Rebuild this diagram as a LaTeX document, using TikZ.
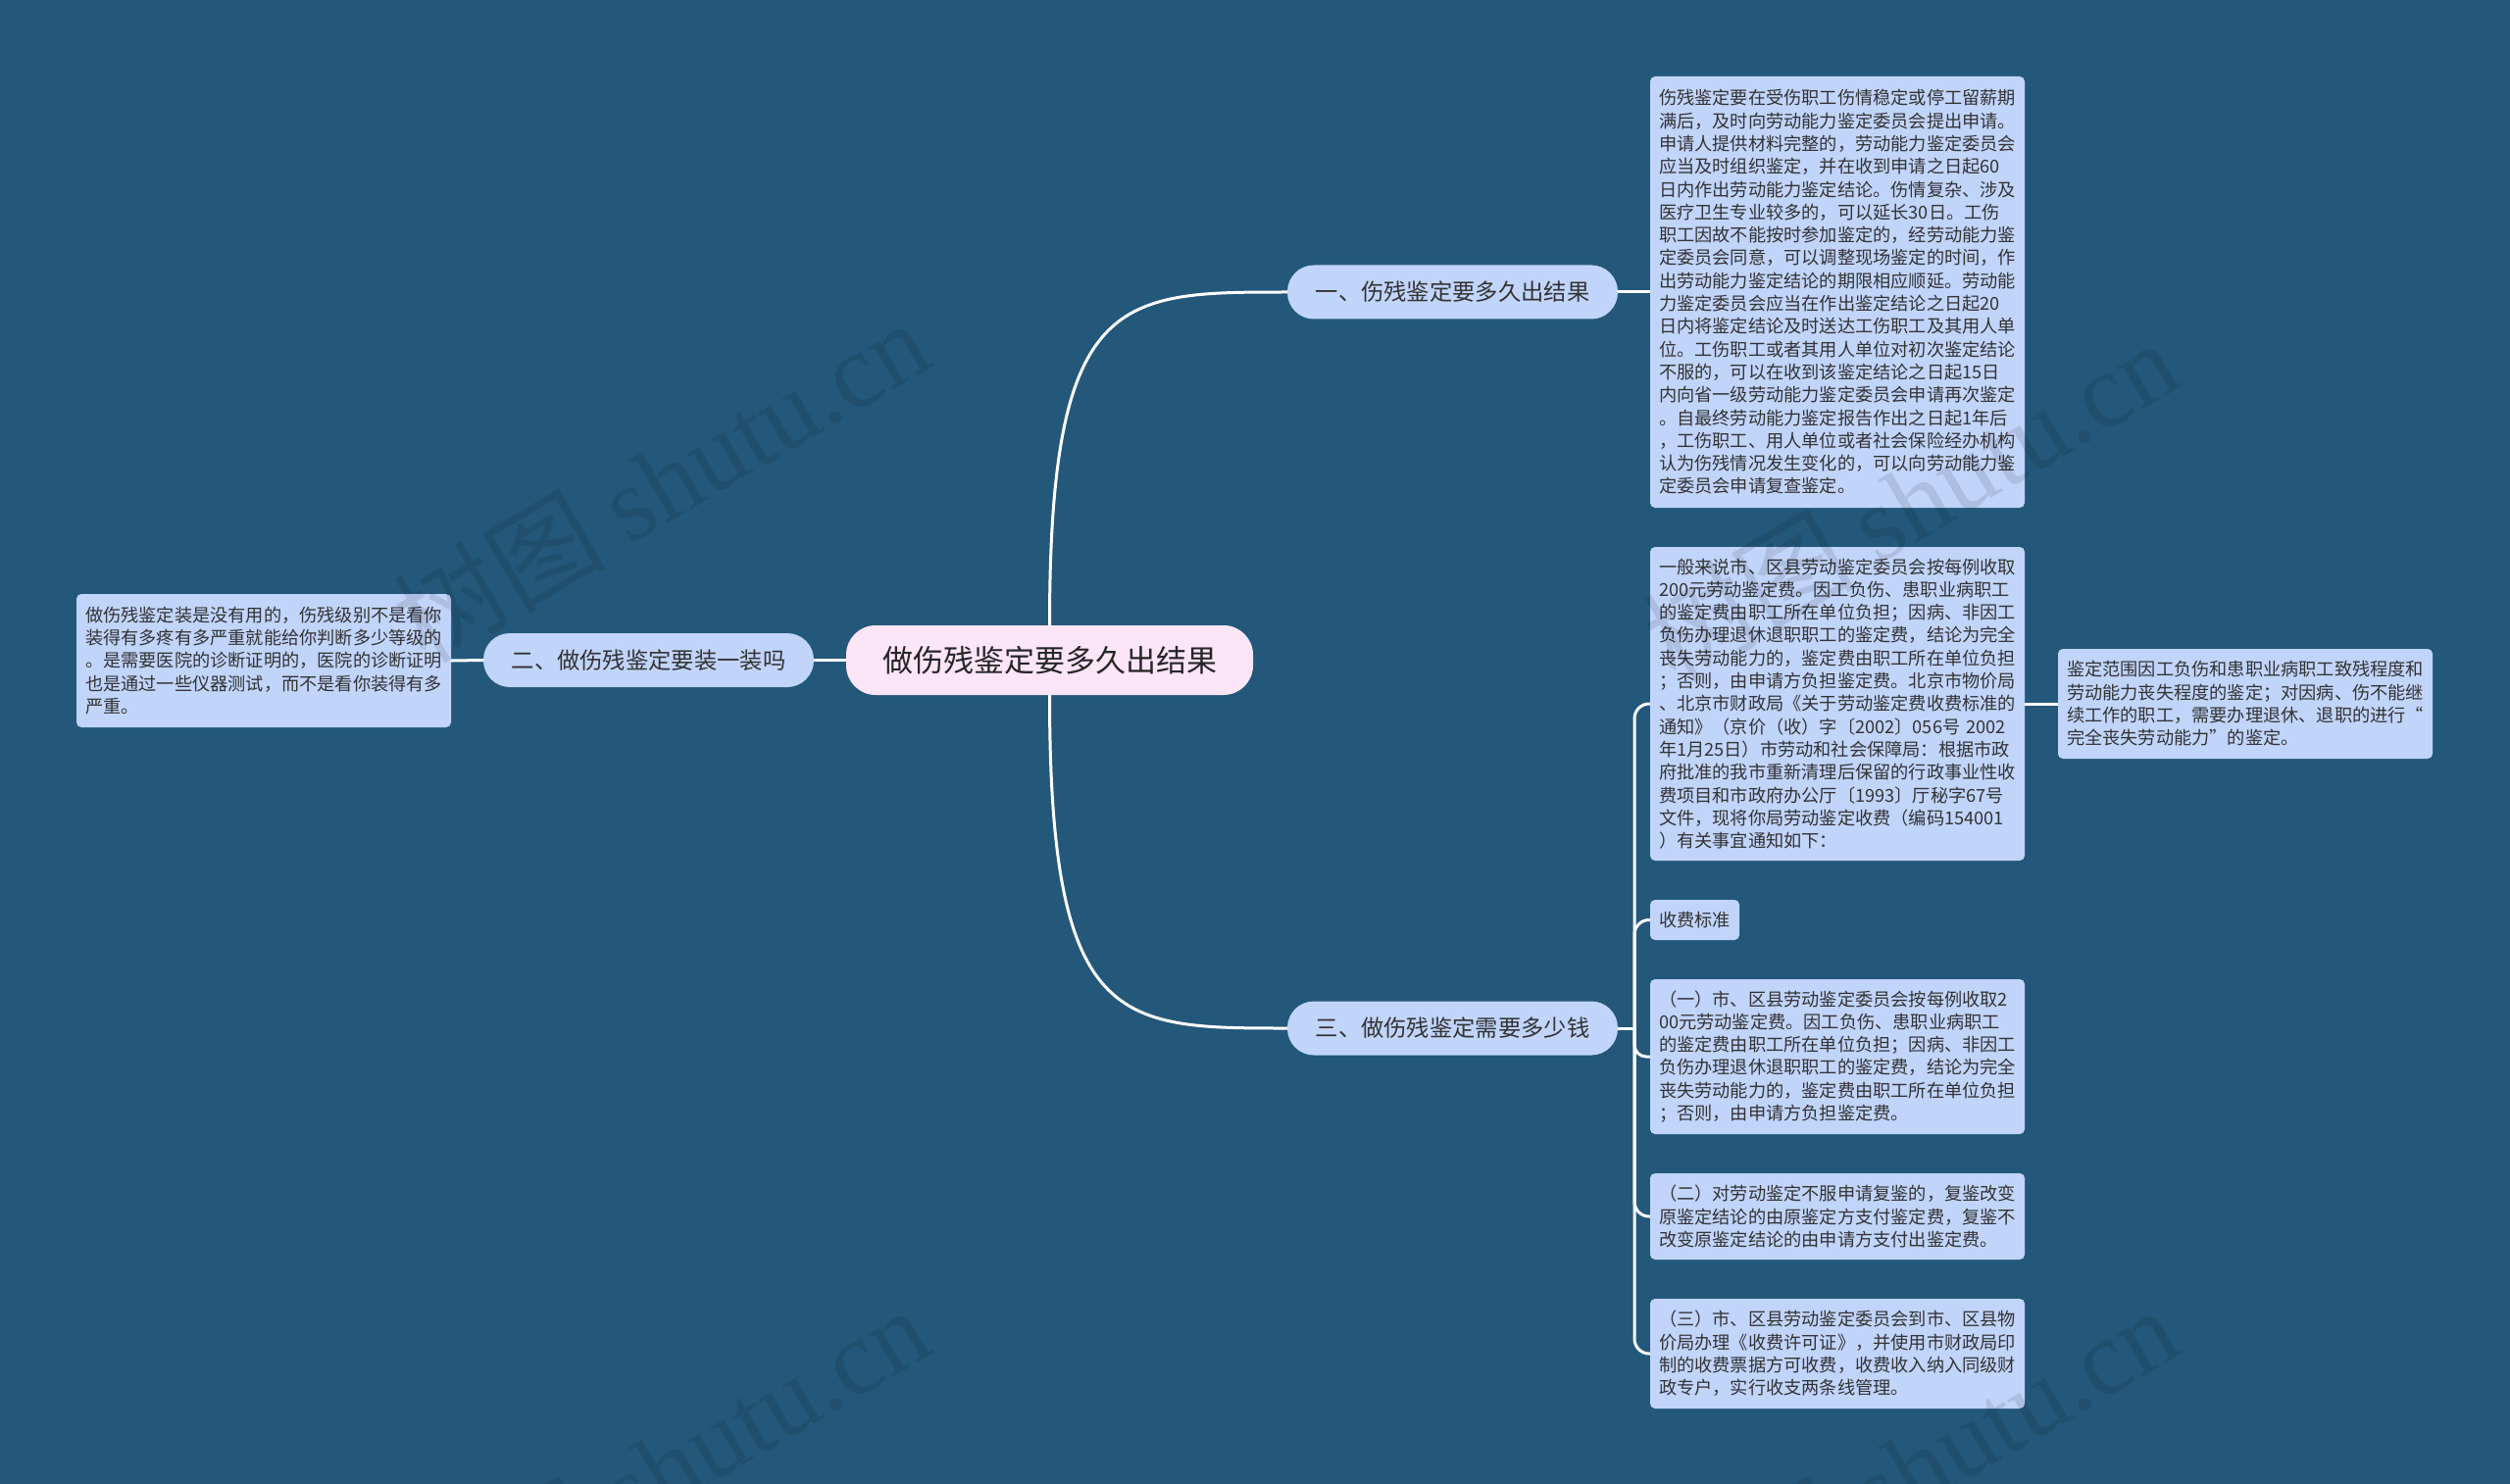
\documentclass[tikz,border=0pt]{standalone}
\usepackage{fontspec}
\setmainfont{Noto Sans CJK SC}
\newfontfamily\wmfont{Liberation Serif}
\definecolor{bgc}{RGB}{35,88,122}
\definecolor{nodefill}{RGB}{193,212,250}
\definecolor{rootfill}{RGB}{253,229,248}
\definecolor{txt}{RGB}{51,51,51}
\tikzset{
  leaf/.style={fill=nodefill, rounded corners=5pt, text=txt, align=left,
    font=\fontsize{18.2}{23.3}\selectfont, text width=364pt, inner xsep=9pt,
    inner ysep=0pt, minimum width=382pt, anchor=center},
  smallleaf/.style={fill=nodefill, rounded corners=5pt, text=txt,
    font=\fontsize{18.2}{23.3}\selectfont, inner xsep=0pt, inner ysep=0pt,
    minimum width=91pt, minimum height=41pt, anchor=center},
  branch/.style={fill=nodefill, rounded corners=27pt, text=txt,
    font=\fontsize{23.3}{28}\selectfont, minimum width=337pt, minimum height=55pt,
    inner sep=0pt, anchor=center},
  rootnode/.style={fill=rootfill, rounded corners=30pt, text=black!85,
    font=\fontsize{31}{36}\selectfont, minimum width=415pt, minimum height=71pt,
    inner sep=0pt, anchor=center},
  conn/.style={draw=white, line width=3pt},
  wm/.style={text=black, text opacity=0.1, rotate=30.5, font=\fontsize{108}{120}\selectfont, inner sep=0pt}
}
\begin{document}
\begin{tikzpicture}[x=1pt,y=-1pt]
\fill[bgc] (0,0) rectangle (2560,1514);
\useasboundingbox (0,0) rectangle (2560,1514);

% root & branches
\node[rootnode] (root) at (1070.5,673.5) {做伤残鉴定要多久出结果};
\node[branch] (b1) at (1481.5,298) {一、伤残鉴定要多久出结果};
\node[branch] (b2) at (661.5,673.5) {二、做伤残鉴定要装一装吗};
\node[branch] (b3) at (1481.5,1049) {三、做伤残鉴定需要多少钱};

% leaves
\node[leaf, minimum height=440pt] (l1) at (1874,298) {伤残鉴定要在受伤职工伤情稳定或停工留薪期\\满后，及时向劳动能力鉴定委员会提出申请。\\申请人提供材料完整的，劳动能力鉴定委员会\\应当及时组织鉴定，并在收到申请之日起60\\日内作出劳动能力鉴定结论。伤情复杂、涉及\\医疗卫生专业较多的，可以延长30日。工伤\\职工因故不能按时参加鉴定的，经劳动能力鉴\\定委员会同意，可以调整现场鉴定的时间，作\\出劳动能力鉴定结论的期限相应顺延。劳动能\\力鉴定委员会应当在作出鉴定结论之日起20\\日内将鉴定结论及时送达工伤职工及其用人单\\位。工伤职工或者其用人单位对初次鉴定结论\\不服的，可以在收到该鉴定结论之日起15日\\内向省一级劳动能力鉴定委员会申请再次鉴定\\。自最终劳动能力鉴定报告作出之日起1年后\\，工伤职工、用人单位或者社会保险经办机构\\认为伤残情况发生变化的，可以向劳动能力鉴\\定委员会申请复查鉴定。};

\node[leaf, minimum height=136pt] (l2) at (269,674) {做伤残鉴定装是没有用的，伤残级别不是看你\\装得有多疼有多严重就能给你判断多少等级的\\。是需要医院的诊断证明的，医院的诊断证明\\也是通过一些仪器测试，而不是看你装得有多\\严重。};

\node[leaf, minimum height=320pt] (l3a) at (1874,718) {一般来说市、区县劳动鉴定委员会按每例收取\\200元劳动鉴定费。因工负伤、患职业病职工\\的鉴定费由职工所在单位负担；因病、非因工\\负伤办理退休退职职工的鉴定费，结论为完全\\丧失劳动能力的，鉴定费由职工所在单位负担\\；否则，由申请方负担鉴定费。北京市物价局\\、北京市财政局《关于劳动鉴定费收费标准的\\通知》（京价（收）字〔2002〕056号 2002\\年1月25日）市劳动和社会保障局：根据市政\\府批准的我市重新清理后保留的行政事业性收\\费项目和市政府办公厅〔1993〕厅秘字67号\\文件，现将你局劳动鉴定收费（编码154001\\）有关事宜通知如下：};

\node[leaf, minimum height=112pt] (l3ac) at (2290,718) {鉴定范围因工负伤和患职业病职工致残程度和\\劳动能力丧失程度的鉴定；对因病、伤不能继\\续工作的职工，需要办理退休、退职的进行“\\完全丧失劳动能力”的鉴定。};

\node[smallleaf] (l3b) at (1728.5,938.5) {收费标准};

\node[leaf, minimum height=158pt] (l3c) at (1874,1078) {（一）市、区县劳动鉴定委员会按每例收取2\\00元劳动鉴定费。因工负伤、患职业病职工\\的鉴定费由职工所在单位负担；因病、非因工\\负伤办理退休退职职工的鉴定费，结论为完全\\丧失劳动能力的，鉴定费由职工所在单位负担\\；否则，由申请方负担鉴定费。};

\node[leaf, minimum height=88pt] (l3d) at (1874,1241) {（二）对劳动鉴定不服申请复鉴的，复鉴改变\\原鉴定结论的由原鉴定方支付鉴定费，复鉴不\\改变原鉴定结论的由申请方支付出鉴定费。};

\node[leaf, minimum height=112pt] (l3e) at (1874,1381) {（三）市、区县劳动鉴定委员会到市、区县物\\价局办理《收费许可证》，并使用市财政局印\\制的收费票据方可收费，收费收入纳入同级财\\政专户，实行收支两条线管理。};

% connectors
\coordinate (sp) at (1667,1049);
\draw[conn] (root.north) .. controls (1070.5,298) and (1141,298) .. (b1.west);
\draw[conn] (root.south) .. controls (1070.5,1049) and (1141,1049) .. (b3.west);
\draw[conn] (root.west) -- (b2.east);
\draw[conn] (b2.west) -- (l2.east);
\draw[conn] (b1.east) -- (l1.west);
\draw[conn] (l3a.east) -- (l3ac.west);
\draw[conn] (b3.east) -- (sp);
\draw[conn, rounded corners=15pt] (sp) |- (l3a.west);
\draw[conn, rounded corners=15pt] (sp) |- (l3b.west);
\draw[conn, rounded corners=12pt] (sp) |- (l3c.west);
\draw[conn, rounded corners=15pt] (sp) |- (l3d.west);
\draw[conn, rounded corners=15pt] (sp) |- (l3e.west);

% watermarks (faint, on top)
\node[wm] (w1) at (674,490) {树图\ {\wmfont shutu.cn}};
\node[wm] (w2) at (1948,510) {树图\ {\wmfont shutu.cn}};
\node[wm] (w3) at (674,1497) {树图\ {\wmfont shutu.cn}};
\node[wm] (w4) at (1948,1497) {树图\ {\wmfont shutu.cn}};
\end{tikzpicture}
\end{document}
